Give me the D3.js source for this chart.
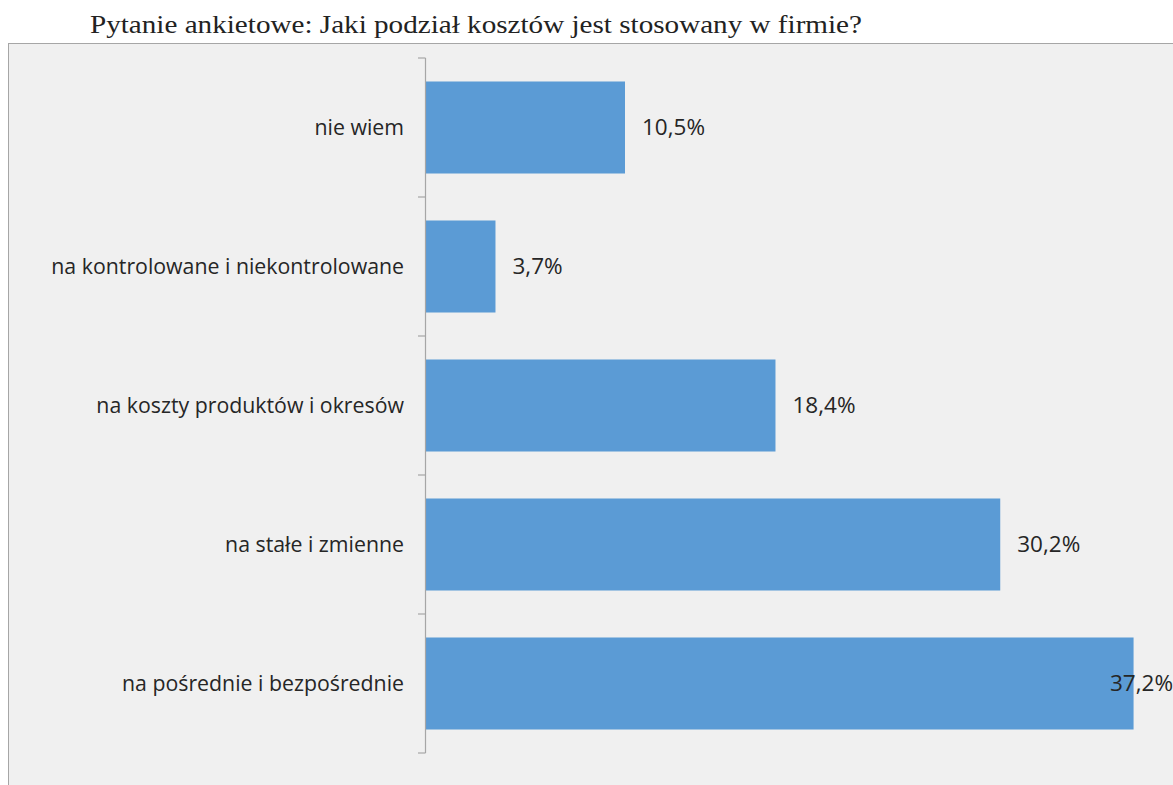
<!DOCTYPE html>
<html>
<head>
<meta charset="utf-8">
<script src="https://cdn.jsdelivr.net/npm/d3@7"></script>
<style>
  html, body { margin: 0; padding: 0; background: #ffffff; }
  svg { display: block; }
</style>
</head>
<body>
<svg id="chart" width="1173" height="785"></svg>
<script>
// Survey answers (top to bottom) and their shares in percent
const categories = [
  "nie wiem",
  "na kontrolowane i niekontrolowane",
  "na koszty produktów i okresów",
  "na stałe i zmienne",
  "na pośrednie i bezpośrednie"
];
const shares = [10.5, 3.7, 18.4, 30.2, 37.2];
const titleText = "Pytanie ankietowe: Jaki podział kosztów jest stosowany w firmie?";

const W = 1173, H = 785;
const svg = d3.select("#chart");

// Chart area panel
const panel = { x: 8.5, y: 43.5 };
svg.append("rect")
  .attr("x", panel.x).attr("y", panel.y)
  .attr("width", W - panel.x + 2).attr("height", H - panel.y + 2)
  .attr("fill", "#f0f0f0")
  .attr("stroke", "#a6a6a6").attr("stroke-width", 1);

// Title
svg.append("text")
  .attr("x", 90).attr("y", 33)
  .attr("font-family", "'Liberation Serif', 'DejaVu Serif', serif")
  .attr("font-size", 26)
  .attr("fill", "#222222")
  .attr("textLength", 772)
  .attr("lengthAdjust", "spacingAndGlyphs")
  .text(titleText);

const plot = { left: 425, top: 58, bottom: 753 };

const x = d3.scaleLinear().domain([0, 10.5]).range([plot.left, 625]);
const y = d3.scaleBand().domain(categories).range([plot.top, plot.bottom])
  .paddingInner(0.338).paddingOuter(0.169);

// Bars
svg.append("g").selectAll("rect")
  .data(categories)
  .join("rect")
  .attr("x", x(0))
  .attr("y", d => y(d))
  .attr("width", (d, i) => x(shares[i]) - x(0))
  .attr("height", y.bandwidth())
  .attr("fill", "#5b9bd5");

// Category axis with ticks at band boundaries
const axisG = svg.append("g");
axisG.append("line")
  .attr("x1", plot.left + 0.5).attr("x2", plot.left + 0.5)
  .attr("y1", plot.top).attr("y2", plot.bottom)
  .attr("stroke", "#a6a6a6").attr("stroke-width", 1.2);
const boundaries = d3.range(categories.length + 1)
  .map(i => plot.top + i * y.step());
axisG.selectAll("line.tick")
  .data(boundaries)
  .join("line")
  .attr("class", "tick")
  .attr("x1", plot.left - 7).attr("x2", plot.left + 0.5)
  .attr("y1", d => d).attr("y2", d => d)
  .attr("stroke", "#a6a6a6").attr("stroke-width", 1.2);

// Category labels
svg.append("g").selectAll("text")
  .data(categories)
  .join("text")
  .attr("x", 404)
  .attr("y", d => y(d) + y.bandwidth() / 2)
  .attr("dy", "0.35em")
  .attr("text-anchor", "end")
  .attr("font-family", "'Open Sans', 'Noto Sans', sans-serif")
  .attr("font-size", 21.3)
  .attr("fill", "#262626")
  .text(d => d);

// Value labels, kept inside the chart's right edge
const fmt = v => d3.format(".1f")(v).replace(".", ",") + "%";
svg.append("g").selectAll("text")
  .data(categories)
  .join("text")
  .attr("y", d => y(d) + y.bandwidth() / 2)
  .attr("dy", "0.35em")
  .attr("font-family", "'Open Sans', 'Noto Sans', sans-serif")
  .attr("font-size", 22.5)
  .attr("fill", "#262626")
  .text((d, i) => fmt(shares[i]))
  .each(function (d, i) {
    const w = this.getComputedTextLength();
    const xPos = Math.min(x(shares[i]) + 17, W - w);
    d3.select(this).attr("x", xPos);
  });
</script>
</body>
</html>
